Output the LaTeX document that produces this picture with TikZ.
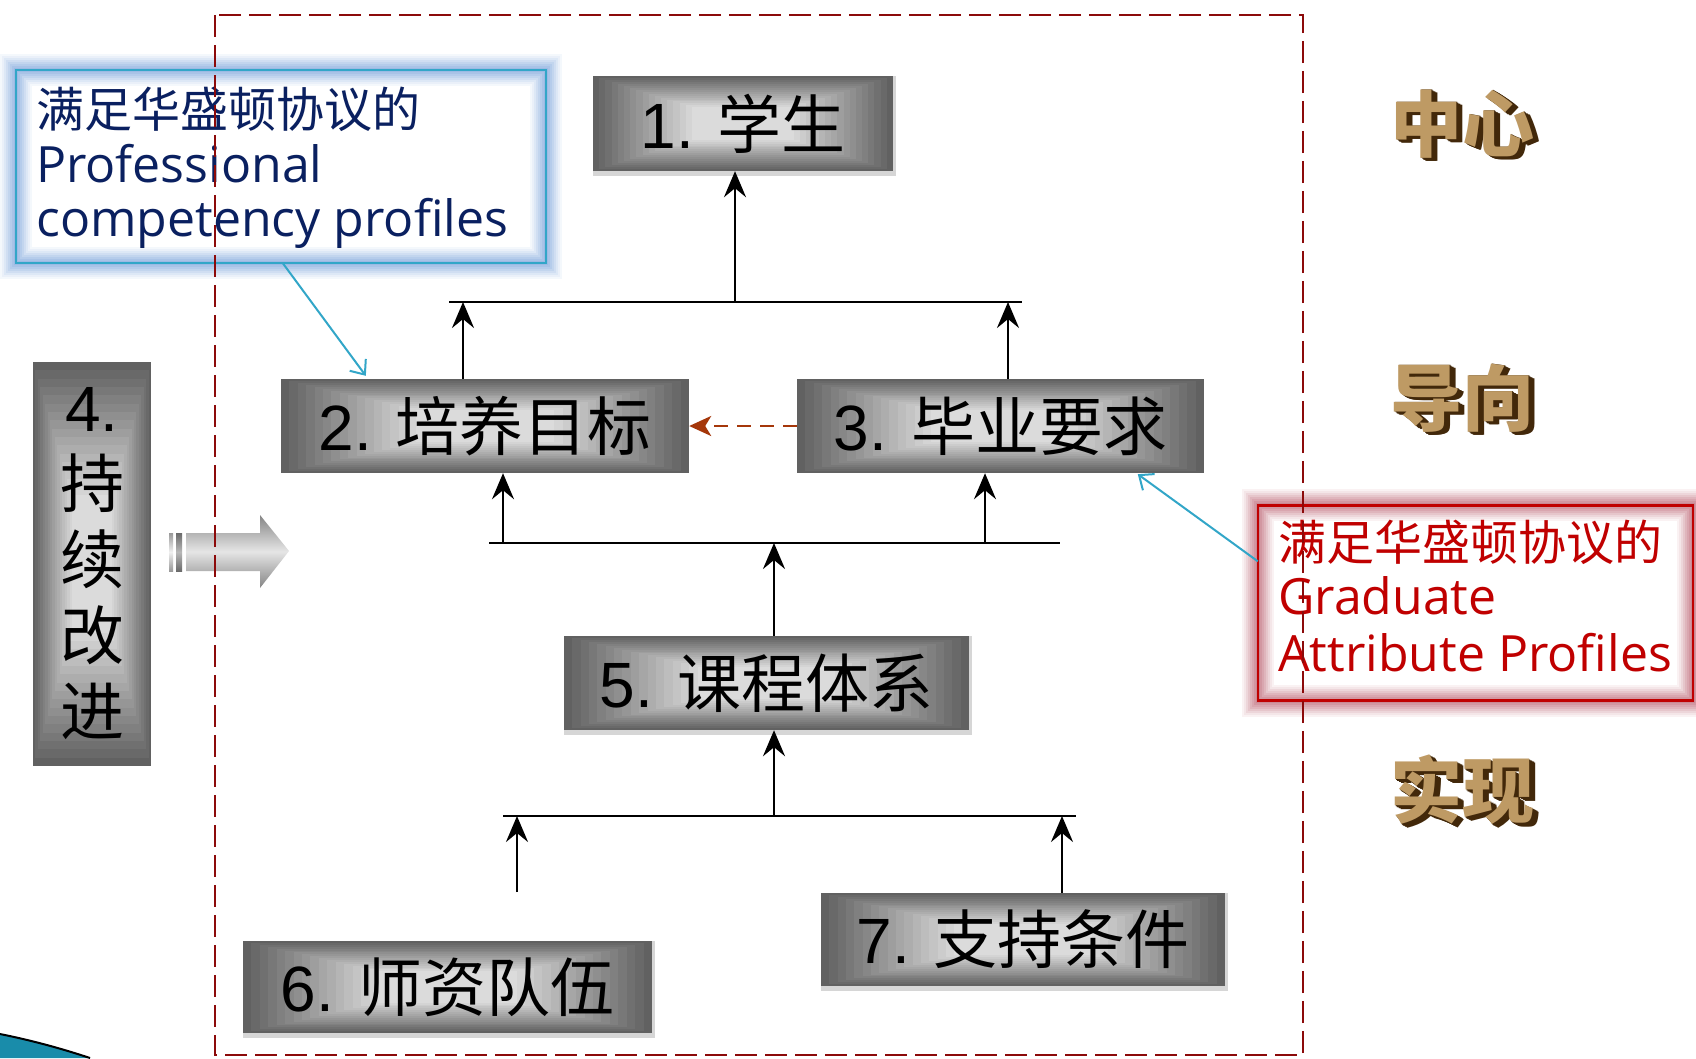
\documentclass[tikz,border=0pt]{standalone}
\usepackage{fontspec}
\setmainfont{Liberation Sans}
\newfontfamily\cjk{Noto Sans CJK SC}
\newfontfamily\osans{Open Sans}
\usetikzlibrary{arrows.meta,calc}
\definecolor{frameRed}{RGB}{140,10,10}
\definecolor{brownArrow}{RGB}{165,55,10}
\definecolor{calloutBlue}{RGB}{50,166,200}
\definecolor{navyText}{RGB}{10,32,96}
\definecolor{redText}{RGB}{192,0,0}
\definecolor{glowB}{RGB}{150,182,226}
\definecolor{glowR}{RGB}{200,128,140}
\definecolor{lblFace}{RGB}{190,154,100}
\definecolor{lblDark}{RGB}{66,40,10}
\definecolor{swooshC}{RGB}{25,140,170}
\tikzset{
  gbox/.style={rectangle, inner sep=0pt, font=\fontsize{64}{76}\selectfont,
    path picture={
      \foreach \k in {0,...,16}{
        \pgfmathsetmacro\gt{0.33*\k/16}
        \pgfmathsetmacro\gc{62-48*\k/16}
        \fill[black!\gc] ($(path picture bounding box.north west)!\gt!(path picture bounding box.south east)$) rectangle ($(path picture bounding box.south east)!\gt!(path picture bounding box.north west)$);
      }
    }},
  conn/.style={line width=2.6pt, -{Stealth[length=26pt,width=22pt,inset=9pt]}},
  bus/.style={line width=2.6pt},
  callarrow/.style={line width=2pt, draw=calloutBlue, -{Straight Barb[length=12pt,width=20pt]}},
  lbl/.style={inner sep=0pt, font=\cjk\bfseries\fontsize{72}{74}\selectfont},
  calltxtB/.style={anchor=base west, inner sep=0pt, text=navyText},
  calltxtR/.style={anchor=base west, inner sep=0pt, text=redText},
  cjkfont/.style={font=\cjk\fontsize{48}{54}\selectfont},
  latfont/.style={font=\osans\fontsize{50}{54}\selectfont},
  edgestrip/.style={fill=black!16},
}
\begin{document}
\begin{tikzpicture}[x=1pt,y=-1pt]
\useasboundingbox (0,0) rectangle (1696,1058);
\fill[white] (0,0) rectangle (1696,1058);

% decorative swoosh
\fill[swooshC] (0,1034) .. controls (30,1040) and (60,1048) .. (90,1058) -- (0,1058) -- cycle;
\draw[black, line width=2pt] (0,1034) .. controls (30,1040) and (60,1048) .. (90,1058);

% boxes
\node[gbox, minimum width=300pt, minimum height=95pt] (b1) at (743,123.5) {1. {\cjk 学生}};
\node[gbox, minimum width=408pt, minimum height=94pt] (b2) at (485,426) {2. {\cjk 培养目标}};
\node[gbox, minimum width=407pt, minimum height=94pt] (b3) at (1000.5,426) {3. {\cjk 毕业要求}};
\node[gbox, minimum width=118pt, minimum height=404pt, align=center] (b4) at (92,564) {4.\\{\cjk 持}\\{\cjk 续}\\{\cjk 改}\\{\cjk 进}};
\node[gbox, minimum width=405pt, minimum height=94pt] (b5) at (766.5,683) {5. {\cjk 课程体系}};
\node[gbox, minimum width=409pt, minimum height=92pt] (b6) at (447.5,987) {6. {\cjk 师资队伍}};
\node[gbox, minimum width=404pt, minimum height=93pt] (b7) at (1023,939.5) {7. {\cjk 支持条件}};

% light edge strips
\foreach \b in {b1,b5,b6,b7}{
  \fill[edgestrip] (\b.south west) rectangle ($(\b.south east)+(3,5)$);
  \fill[edgestrip] (\b.north east) rectangle ($(\b.south east)+(3,0)$);
}

% bus 1
\coordinate (bus1L) at (449,302);
\coordinate (bus1R) at (1022,302);
\draw[bus] (bus1L) -- (bus1R);
\coordinate (t1) at (735,302);
\draw[conn] (t1) -- (t1 |- b1.south);
\coordinate (u2) at (463,302);
\draw[conn] (u2 |- b2.north) -- (u2);
\coordinate (u3) at (1008,302);
\draw[conn] (u3 |- b3.north) -- (u3);

% bus 2
\coordinate (bus2L) at (489,543);
\coordinate (bus2R) at (1060,543);
\draw[bus] (bus2L) -- (bus2R);
\coordinate (v2) at (503,543);
\draw[conn] (v2) -- (v2 |- b2.south);
\coordinate (v3) at (985,543);
\draw[conn] (v3) -- (v3 |- b3.south);
\coordinate (w5) at (774,543);
\draw[conn] (w5 |- b5.north) -- (w5);

% bus 3
\coordinate (bus3L) at (503,816);
\coordinate (bus3R) at (1076,816);
\draw[bus] (bus3L) -- (bus3R);
\coordinate (x5) at (774,816);
\draw[conn] (x5) -- (x5 |- b5.south);
\coordinate (x6) at (517,816);
\coordinate (x6s) at (517,892);
\draw[conn] (x6s) -- (x6);
\coordinate (x7) at (1062,816);
\draw[conn] (x7 |- b7.north) -- (x7);

% dashed brown arrow 3 -> 2
\draw[line width=2.5pt, brownArrow, dash pattern=on 14pt off 9pt, -{Stealth[length=22pt,width=20pt,inset=6pt]}] (b3.west) -- (b2.east);

% block arrow
\shade[top color=black!40, bottom color=black!40, middle color=black!6] (169,533) rectangle (173,571);
\shade[top color=black!58, bottom color=black!58, middle color=black!28] (176,533) rectangle (182,571);
\shade[top color=black!48, bottom color=black!48, middle color=black!10]
  (186,533) -- (260,533) -- (260,515) -- (289,551) -- (260,588) -- (260,571) -- (186,571) -- cycle;

% blue callout
\node[fill=white, minimum width=530pt, minimum height=193pt, inner sep=0pt] (pcp) at (281,166.5) {};
\foreach \w/\p in {32/10,28/20,24/32,20/45,16/58,12/70,8/82,4/94}{
  \draw[line width=\w pt, draw=glowB!\p] (pcp.north west) rectangle (pcp.south east);
}
\draw[line width=2.5pt, calloutBlue] (pcp.north west) rectangle (pcp.south east);
\node[calltxtB, cjkfont] (pcp1) at (36,127) {满足华盛顿协议的};
\node[calltxtB, latfont] (pcp2) at (36,182) {Professional};
\node[calltxtB, latfont] (pcp3) at (36,236) {competency profiles};
\draw[callarrow] ($(pcp.south west)+(267,0)$) -- ($(b2.north west)+(85,-3)$);

% red callout
\node[fill=white, minimum width=435pt, minimum height=195pt, inner sep=0pt] (gap) at (1475.5,603) {};
\foreach \w/\p in {32/10,28/20,24/32,20/45,16/58,12/70,8/82,4/94}{
  \draw[line width=\w pt, draw=glowR!\p] (gap.north west) rectangle (gap.south east);
}
\draw[line width=2.5pt, redText] (gap.north west) rectangle (gap.south east);
\node[calltxtR, cjkfont] (gap1) at (1278,560) {满足华盛顿协议的};
\node[calltxtR, latfont] (gap2) at (1278,614) {Graduate};
\node[calltxtR, latfont] (gap3) at (1278,671) {Attribute Profiles};
\draw[callarrow] ($(gap.north west)+(0,56)$) -- ($(b3.south west)+(341,1)$);

% right labels with 3D extrusion
\foreach \n/\p/\t in {zx/124/中心, dx/398/导向, sx/790/实现}{
  \foreach \o in {6,5,4,3,2,1}{
    \node[lbl, text=lblDark] (\n s\o) at (1462+\o,\p+0.6*\o) {\t};
  }
  \node[lbl, text=lblFace] (\n) at (1462,\p) {\t};
}

% dashed frame
\draw[frameRed, line width=2.6pt, dash pattern=on 22pt off 8pt] (215,15) rectangle (1303,1055);
\end{tikzpicture}
\end{document}
